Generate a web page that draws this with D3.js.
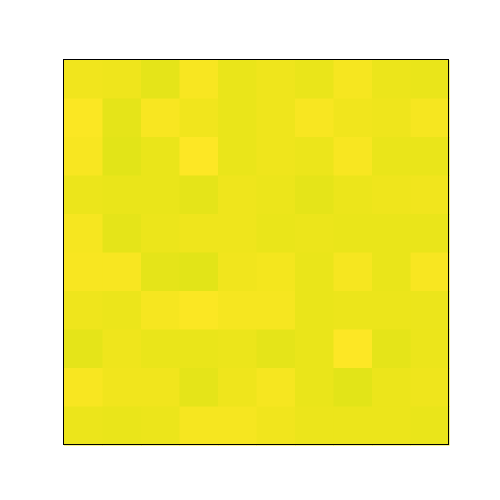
<!DOCTYPE html>
<html><head><meta charset="utf-8">
<script src="https://cdn.jsdelivr.net/npm/d3@7"></script>
<style>body{margin:0;background:#fff}</style>
</head><body>
<script>
const rows = [0,1,2,3,4,5,6,7,8,9];
const cols = [0,1,2,3,4,5,6,7,8,9];
const row0 = [0.988,0.985,0.976,0.994,0.979,0.985,0.980,0.991,0.983,0.979];
const row1 = [0.997,0.976,0.994,0.988,0.979,0.985,0.994,0.988,0.985,0.991];
const row2 = [0.994,0.973,0.979,1.000,0.979,0.985,0.982,0.994,0.979,0.979];
const row3 = [0.982,0.979,0.979,0.976,0.985,0.982,0.976,0.982,0.984,0.988];
const row4 = [0.991,0.976,0.982,0.985,0.985,0.979,0.982,0.979,0.979,0.979];
const row5 = [0.994,0.994,0.976,0.973,0.988,0.990,0.979,0.991,0.979,0.993];
const row6 = [0.985,0.982,0.991,0.997,0.991,0.991,0.979,0.982,0.982,0.982];
const row7 = [0.976,0.985,0.979,0.979,0.982,0.976,0.979,1.000,0.976,0.982];
const row8 = [0.994,0.988,0.988,0.976,0.985,0.991,0.979,0.973,0.982,0.985];
const row9 = [0.982,0.979,0.982,0.991,0.991,0.988,0.982,0.982,0.982,0.979];
const values = [row0,row1,row2,row3,row4,row5,row6,row7,row8,row9];

const W=500,H=500, L=64, T=60, S=385;
const svg = d3.select("body").append("svg").attr("width",W).attr("height",H);
const x = d3.scaleBand().domain(cols).range([L,L+S]);
const y = d3.scaleBand().domain(rows).range([T,T+S]);
const color = d3.scaleSequential(d3.interpolateViridis).domain([0.4,1]);
const cells = [];
values.forEach((r,i)=>r.forEach((v,j)=>cells.push({i,j,v})));
svg.selectAll("rect.cell").data(cells).join("rect").attr("class","cell")
  .attr("x",d=>x(d.j)).attr("y",d=>y(d.i))
  .attr("width",x.bandwidth()+0.5).attr("height",y.bandwidth()+0.5)
  .attr("fill",d=>color(d.v));
svg.append("rect").attr("x",L-0.5).attr("y",T-0.5).attr("width",S).attr("height",S)
  .attr("fill","none").attr("stroke","#000").attr("stroke-width",1)
  .attr("shape-rendering","crispEdges");
</script>
</body></html>
